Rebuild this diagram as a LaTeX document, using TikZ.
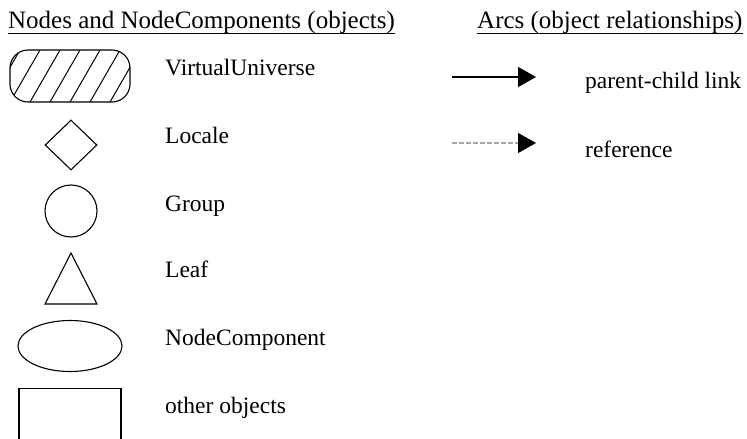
\documentclass[tikz,border=0pt]{standalone}
\usepackage{fontspec}
\setmainfont{Liberation Serif}
\usetikzlibrary{shapes.geometric,arrows.meta}
\begin{document}
\begin{tikzpicture}[x=1pt,y=-1pt,
  lbl/.style={anchor=base west,inner sep=0pt,font=\fontsize{23.5}{25}\selectfont},
  hdr/.style={lbl,font=\fontsize{25}{27}\selectfont},
  shp/.style={draw,line width=1.1pt,inner sep=0pt},
  arr/.style={line width=1.3pt,-{Triangle[length=18pt,width=20pt]}}]
\useasboundingbox (0,0) rectangle (747,439);
% headers
\node[hdr] (h1) at (8,28) {Nodes and NodeComponents (objects)};
\draw[line width=1pt] (h1.base west) ++(0,5) -- ([yshift=-5pt]h1.base east);
\node[hdr] (h2) at (477,28) {Arcs (object relationships)};
\draw[line width=1pt] (h2.base west) ++(0,5) -- ([yshift=-5pt]h2.base east);
% VirtualUniverse
\node[shp,rounded corners=18pt,minimum width=120pt,minimum height=52pt] (vu) at (70,76) {};
\begin{scope}
\clip[rounded corners=18pt] (10,50) rectangle (130,102);
\foreach \i in {0,...,8}{
  \draw[line width=1pt] (-10+\i*20,102) -- (20+\i*20,50);
}
\end{scope}
\node[lbl] (tvu) at (165,75) {VirtualUniverse};
% Locale
\node[shp,diamond,minimum width=52pt,minimum height=50pt] (loc) at (71,145) {};
\node[lbl] (tloc) at (165,143) {Locale};
% Group
\node[shp,circle,minimum size=52pt] (grp) at (71,211) {};
\node[lbl] (tgrp) at (165,211) {Group};
% Leaf
\coordinate (la) at (71,253);
\coordinate (lb) at (45,304);
\coordinate (lc) at (97,304);
\draw[line width=1.1pt,line join=miter] (la) -- (lb) -- (lc) -- cycle;
\node[lbl] (tleaf) at (165,277) {Leaf};
% NodeComponent
\node[shp,ellipse,minimum width=104pt,minimum height=51pt] (nc) at (70,346) {};
\node[lbl] (tnc) at (165,345) {NodeComponent};
% other objects
\node[shp,rectangle,anchor=north,minimum width=102pt,minimum height=60pt] (oo) at (70,388) {};
\node[lbl] (too) at (165,413) {other objects};
% arcs
\coordinate (a1s) at (452,77);
\coordinate (a1e) at (536,77);
\draw[arr] (a1s) -- (a1e);
\node[lbl] (tpc) at (585,88) {parent-child link};
\coordinate (a2s) at (452,143);
\coordinate (a2m) at (520,143);
\coordinate (a2e) at (536,143);
\draw[line width=1.3pt,gray!70,dash pattern=on 5pt off 2pt] (a2s) -- (a2m);
\draw[arr] (a2m) -- (a2e);
\node[lbl] (tref) at (585,157) {reference};
\end{tikzpicture}
\end{document}
